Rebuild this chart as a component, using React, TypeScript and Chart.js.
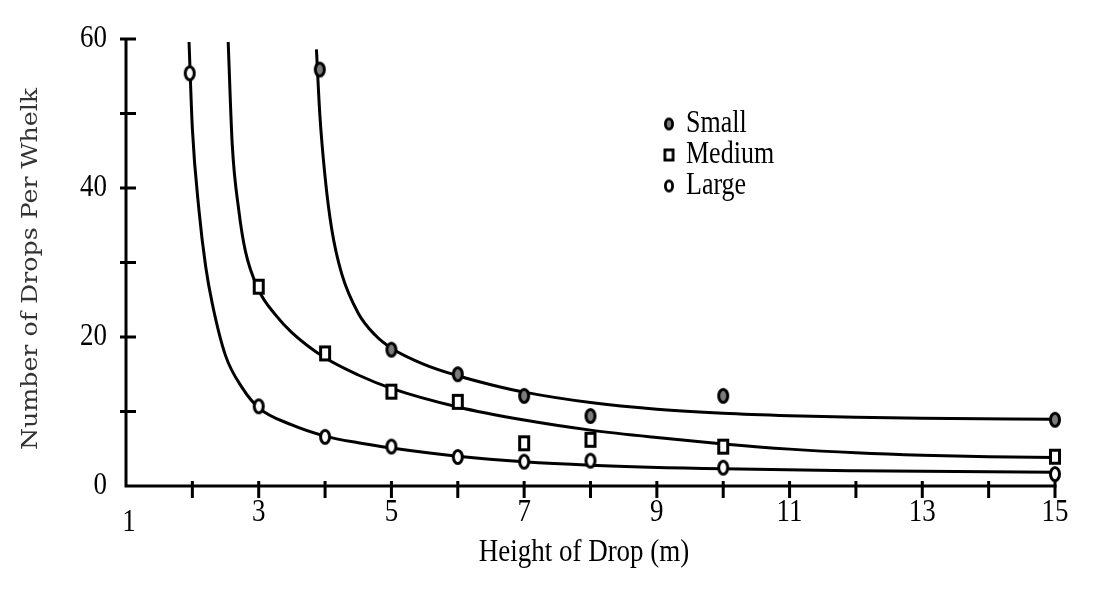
import React, { useEffect, useRef } from 'react';
import { Chart, registerables } from 'chart.js';

Chart.register(...registerables);

// ---- Data ----
const smallX = [3.92, 5, 6, 7, 8, 10, 15];
const smallY = [55.9, 18.3, 15.0, 12.1, 9.4, 12.1, 8.9];
const mediumX = [3, 4, 5, 6, 7, 8, 10, 15];
const mediumY = [26.75, 17.8, 12.66, 11.3, 5.73, 6.2, 5.28, 3.93];
const largeX = [1.96, 3, 4, 5, 6, 7, 8, 10, 15];
const largeY = [55.4, 10.7, 6.6, 5.3, 3.9, 3.27, 3.4, 2.46, 1.6];

// fitted curves
const smallFitX = [3.87, 3.92, 4.0, 4.1, 4.25, 4.5, 4.75, 5.0, 5.5, 6.0, 6.5, 7.0, 8.0, 9.0, 10.0, 11.0, 12.0, 13.0, 15.0];
const smallFitY = [58.6, 50.0, 41.5, 34.5, 28.5, 23.2, 20.3, 18.5, 16.3, 14.8, 13.6, 12.6, 11.2, 10.3, 9.75, 9.42, 9.22, 9.1, 8.95];
const mediumFitX = [2.54, 2.6, 2.7, 2.8, 3.0, 3.25, 3.5, 4.0, 4.5, 5.0, 6.0, 7.0, 8.0, 9.0, 10.0, 11.0, 12.0, 13.0, 14.0, 15.0];
const mediumFitY = [59.6, 46.0, 37.0, 31.5, 26.3, 23.0, 20.6, 17.2, 14.9, 13.1, 10.6, 8.85, 7.5, 6.5, 5.65, 4.95, 4.45, 4.12, 3.93, 3.82];
const largeFitX = [1.95, 2.0, 2.1, 2.2, 2.3, 2.5, 2.75, 3.0, 3.5, 4.0, 4.5, 5.0, 6.0, 7.0, 8.0, 10.0, 12.0, 15.0];
const largeFitY = [59.6, 48.0, 37.0, 29.5, 24.5, 17.5, 13.2, 10.5, 8.2, 6.7, 5.8, 5.1, 4.0, 3.25, 2.8, 2.3, 2.05, 1.85];

const seriesNames = ['Small', 'Medium', 'Large'];
const xTickLabels = ['1', '3', '5', '7', '9', '11', '13', '15'];
const xMinorTicks = [2, 3, 4, 5, 6, 7, 8, 9, 10, 11, 12, 13, 14, 15];
const yTickLabels = ['0', '20', '40', '60'];
const yMinorTicks = [10, 20, 30, 40, 50, 60];
const xTitle = 'Height of Drop (m)';
const yTitle = 'Number of Drops Per Whelk';

const W = 1099;
const H = 595;
const STRETCH = 1.18;
const SERIF = '"Liberation Serif", "Times New Roman", serif';

type Kind = 'filled' | 'open' | 'square';

function makeMarker(kind: Kind, ow: number, oh: number, lw: number): HTMLCanvasElement {
  const c = document.createElement('canvas');
  const cw = Math.ceil(ow) + 2;
  const ch = Math.ceil(oh) + 2;
  c.width = cw;
  c.height = ch;
  const ctx = c.getContext('2d')!;
  ctx.lineWidth = lw;
  ctx.strokeStyle = '#000';
  const cx = cw / 2;
  const cy = ch / 2;
  if (kind === 'square') {
    const w = ow - lw;
    const h = oh - lw;
    ctx.fillStyle = '#fff';
    ctx.fillRect(cx - w / 2, cy - h / 2, w, h);
    ctx.strokeRect(cx - w / 2, cy - h / 2, w, h);
  } else {
    ctx.beginPath();
    ctx.ellipse(cx, cy, (ow - lw) / 2, (oh - lw) / 2, 0, 0, Math.PI * 2);
    ctx.fillStyle = kind === 'filled' ? '#7c7c7c' : '#fff';
    ctx.fill();
    ctx.stroke();
  }
  return c;
}

function stretchedText(
  ctx: CanvasRenderingContext2D,
  text: string,
  x: number,
  y: number,
  font: string,
  align: CanvasTextAlign,
  sy: number
) {
  ctx.save();
  ctx.translate(x, y);
  ctx.scale(1, sy);
  ctx.font = font;
  ctx.textAlign = align;
  ctx.textBaseline = 'middle';
  ctx.fillStyle = '#000';
  ctx.fillText(text, 0, 0);
  ctx.restore();
}

const toPts = (xs: number[], ys: number[]) => xs.map((x, i) => ({ x, y: ys[i] }));

export default function App() {
  const ref = useRef<HTMLCanvasElement | null>(null);

  useEffect(() => {
    if (!ref.current) return;
    const kinds: Kind[] = ['filled', 'square', 'open'];
    const plotMarkers = kinds.map((k) => makeMarker(k, 12, 16, 3));
    const legendMarkers = kinds.map((k) => makeMarker(k, k === 'square' ? 11 : 10, 13, 2.8));

    const decor = {
      id: 'decor',
      afterDatasetsDraw(chart: any) {
        const ctx: CanvasRenderingContext2D = chart.ctx;
        const xs = chart.scales.x;
        const ys = chart.scales.y;
        const x0 = xs.getPixelForValue(1);
        const x15 = xs.getPixelForValue(15);
        const y0 = ys.getPixelForValue(0);
        const y60 = ys.getPixelForValue(60);
        ctx.save();
        ctx.strokeStyle = '#000';
        ctx.lineWidth = 3;
        ctx.lineCap = 'butt';
        // axes
        ctx.beginPath();
        ctx.moveTo(x0, y60 - 1);
        ctx.lineTo(x0, y0 + 1.5);
        ctx.moveTo(x0 - 1.5, y0);
        ctx.lineTo(x15 + 1.5, y0);
        ctx.stroke();
        // y ticks
        ctx.beginPath();
        yMinorTicks.forEach((v) => {
          const p = ys.getPixelForValue(v);
          ctx.moveTo(x0 - 6, p);
          ctx.lineTo(x0 + 10, p);
        });
        // x ticks
        xMinorTicks.forEach((v) => {
          const p = xs.getPixelForValue(v);
          ctx.moveTo(p, y0 - 5);
          ctx.lineTo(p, y0 + 12);
        });
        ctx.stroke();

        // y tick labels
        yTickLabels.forEach((t) => {
          const p = ys.getPixelForValue(Number(t));
          stretchedText(ctx, t, x0 - 19, p, `27px ${SERIF}`, 'right', STRETCH);
        });
        // x tick labels
        xTickLabels.forEach((t) => {
          const v = Number(t);
          const p = xs.getPixelForValue(v);
          const dy = v === 1 ? 37 : 27;
          stretchedText(ctx, t, p + (v === 1 ? 3 : 0), y0 + dy, `27px ${SERIF}`, 'center', STRETCH);
        });
        // x title
        stretchedText(ctx, xTitle, 584, y0 + 67, `27px ${SERIF}`, 'center', STRETCH);

        // y title (rotated, slab serif)
        ctx.save();
        ctx.translate(30, 269);
        ctx.rotate(-Math.PI / 2);
        ctx.font = `23px "DejaVu Serif", serif`;
        const tw = ctx.measureText(yTitle).width;
        ctx.scale(362 / tw, 1);
        ctx.textAlign = 'center';
        ctx.textBaseline = 'middle';
        ctx.fillStyle = '#333';
        ctx.fillText(yTitle, 0, 1);
        ctx.restore();

        // legend
        const legendY = [124, 155, 186];
        seriesNames.forEach((name, i) => {
          const m = legendMarkers[i];
          ctx.drawImage(m, 669 - m.width / 2, legendY[i] - m.height / 2);
          stretchedText(ctx, name, 686, legendY[i], `26px ${SERIF}`, 'left', STRETCH);
        });
        ctx.restore();
      },
    };

    const curve = (xs: number[], ys: number[]) => ({
      data: toPts(xs, ys),
      showLine: true,
      borderColor: '#000',
      borderWidth: 3,
      pointRadius: 0,
      pointHoverRadius: 0,
      cubicInterpolationMode: 'monotone' as const,
      fill: false,
      order: 2,
      clip: false as any,
    });
    const marks = (xs: number[], ys: number[], i: number, label: string) => ({
      label,
      data: toPts(xs, ys),
      showLine: false,
      pointStyle: plotMarkers[i] as any,
      pointRadius: 7,
      order: 1,
      clip: false as any,
    });

    const chart = new Chart(ref.current, {
      type: 'scatter',
      data: {
        datasets: [
          curve(smallFitX, smallFitY),
          curve(mediumFitX, mediumFitY),
          curve(largeFitX, largeFitY),
          marks(smallX, smallY, 0, seriesNames[0]),
          marks(mediumX, mediumY, 1, seriesNames[1]),
          marks(largeX, largeY, 2, seriesNames[2]),
        ] as any,
      },
      options: {
        responsive: false,
        animation: false,
        events: [],
        layout: { padding: { left: 126, right: W - 1055, top: 39, bottom: H - 486 } },
        scales: {
          x: { type: 'linear', min: 1, max: 15, display: false },
          y: { type: 'linear', min: 0, max: 60, display: false },
        },
        plugins: {
          legend: { display: false },
          tooltip: { enabled: false },
          title: { display: false },
        },
      },
      plugins: [decor],
    });
    return () => chart.destroy();
  }, []);

  return (
    <div style={{ position: 'fixed', left: 0, top: 0, width: W, height: H, background: '#fff' }}>
      <canvas ref={ref} width={W} height={H} style={{ width: W, height: H, display: 'block' }} />
    </div>
  );
}
